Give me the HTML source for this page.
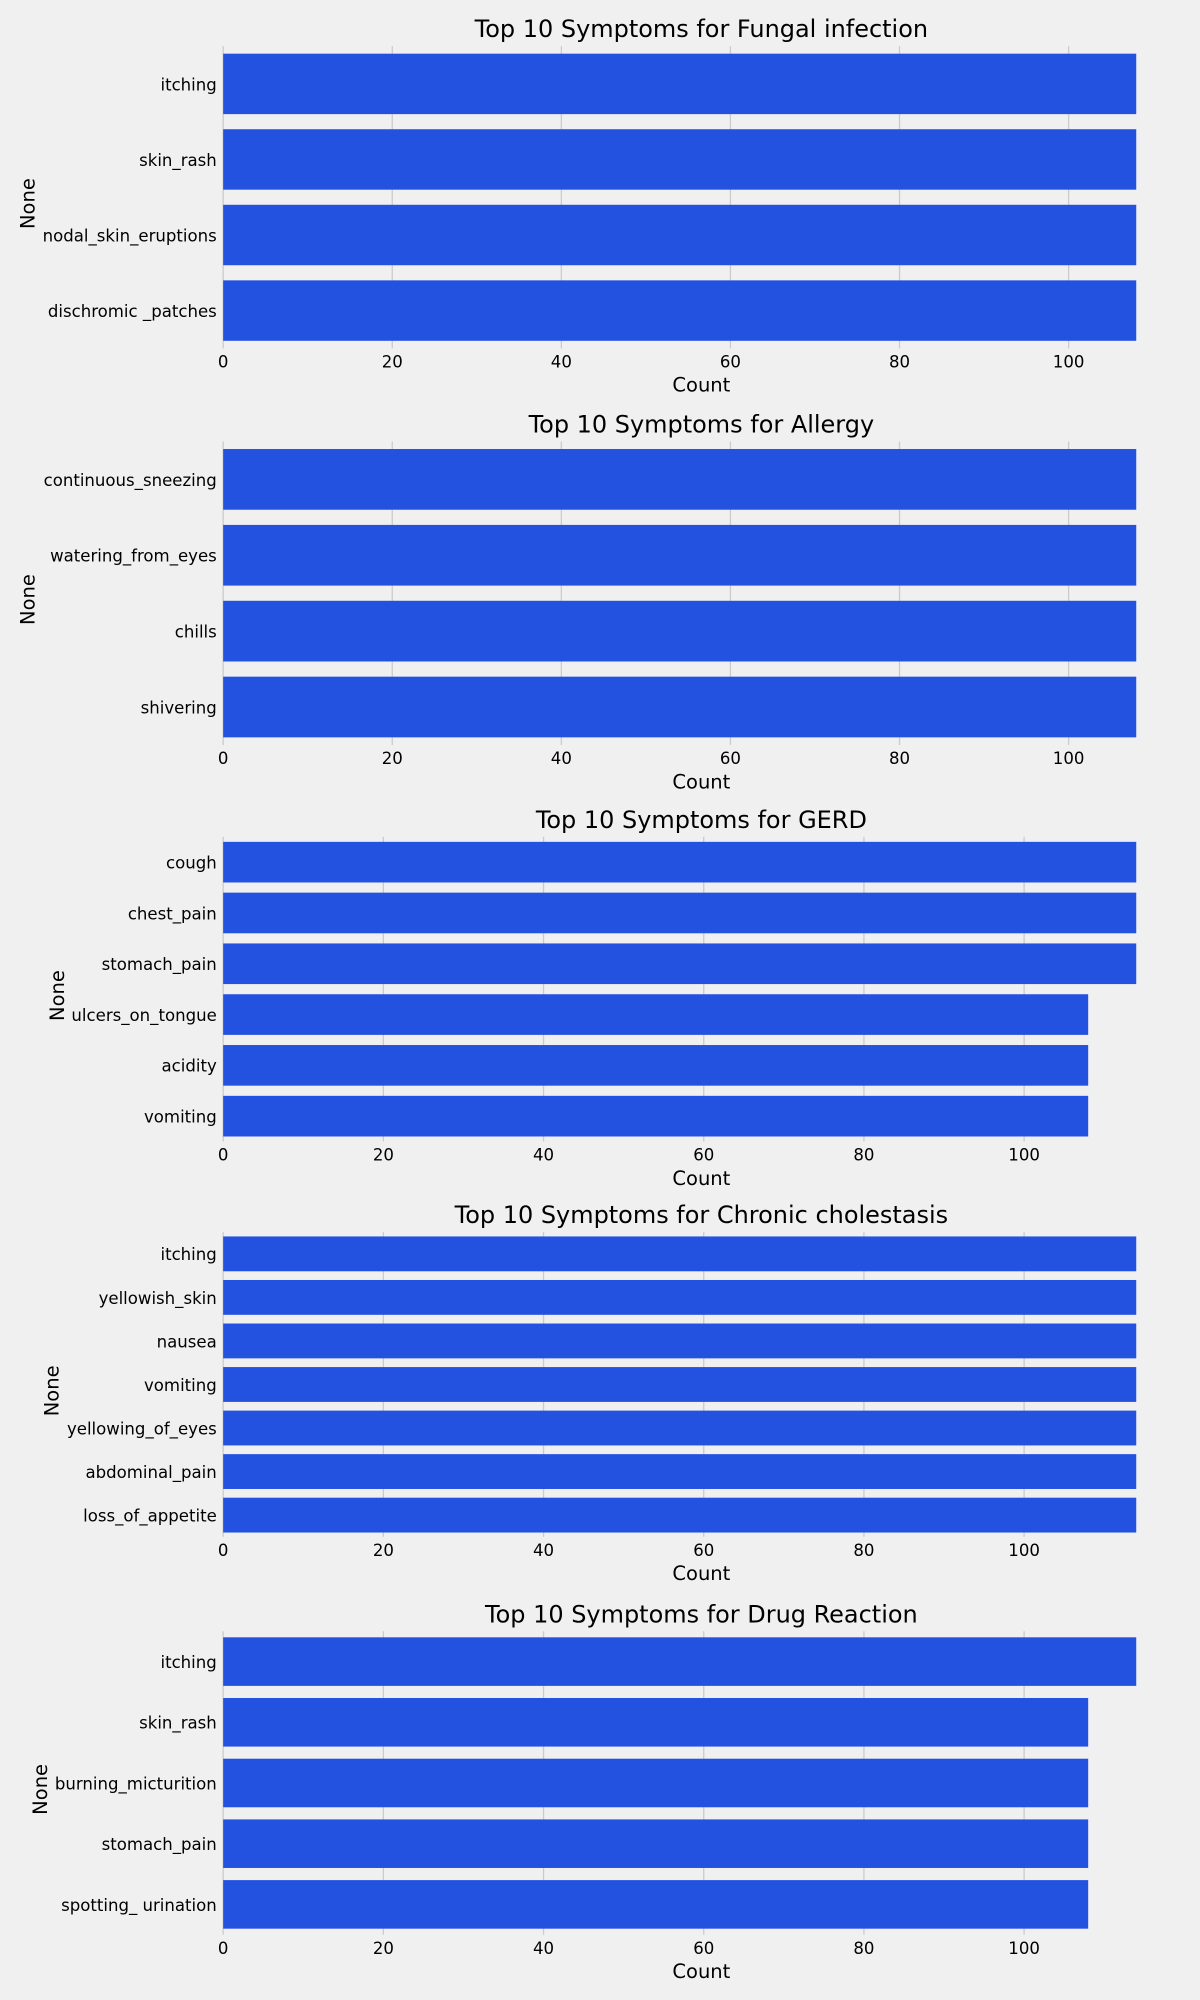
<!DOCTYPE html>
<html><head><meta charset="utf-8"><style>
html,body{margin:0;padding:0;background:#f0f0f0;}
svg{display:block;font-family:"DejaVu Sans","Liberation Sans",sans-serif;}
</style></head><body>
<svg id="chart" width="1200" height="2000" viewBox="0 0 941 1568" xmlns="http://www.w3.org/2000/svg">
<rect width="941" height="1568" fill="#f0f0f0"/>
</svg>
<script>
const cats1 = ["itching","skin_rash","nodal_skin_eruptions","dischromic _patches"];
const vals1 = [108,108,108,108];
const cats2 = ["continuous_sneezing","watering_from_eyes","chills","shivering"];
const vals2 = [108,108,108,108];
const cats3 = ["cough","chest_pain","stomach_pain","ulcers_on_tongue","acidity","vomiting"];
const vals3 = [114,114,114,108,108,108];
const cats4 = ["itching","yellowish_skin","nausea","vomiting","yellowing_of_eyes","abdominal_pain","loss_of_appetite"];
const vals4 = [114,114,114,114,114,114,114];
const cats5 = ["itching","skin_rash","burning_micturition","stomach_pain","spotting_ urination"];
const vals5 = [114,108,108,108,108];
const diseases = ["Fungal infection","Allergy","GERD","Chronic cholestasis","Drug Reaction"];
const ticks = [0,20,40,60,80,100];

const panels = [
 {cats:cats1, vals:vals1, top:36, bot:273, ylx:22},
 {cats:cats2, vals:vals2, top:346, bot:584, ylx:22},
 {cats:cats3, vals:vals3, top:656, bot:895, ylx:45},
 {cats:cats4, vals:vals4, top:966, bot:1205, ylx:41},
 {cats:cats5, vals:vals5, top:1279, bot:1517, ylx:32}
];
const svg = document.getElementById('chart');
const NS = "http://www.w3.org/2000/svg";
function mk(tag, attrs, text){
  const e = document.createElementNS(NS, tag);
  for (const k in attrs) e.setAttribute(k, attrs[k]);
  if (text !== undefined) e.textContent = text;
  svg.appendChild(e); return e;
}
const L = 175, R = 891, CX = 550;
panels.forEach((p, pi) => {
  const xmax = Math.max(...p.vals);
  const xs = v => L + (v / xmax) * (R - L);
  const band = (p.bot - p.top) / p.cats.length;
  const ys = i => p.top + i * band;
  ticks.forEach(t => {
    if (t > xmax) return;
    const g = mk('line', {x1:xs(t), x2:xs(t), y1:p.top, y2:p.bot, stroke:'#cbcbcb', 'stroke-width':1});
    
    
    const tl = mk('text', {x:xs(t), y:p.bot+15, 'text-anchor':'middle', 'font-size':13, fill:'#000'}, String(t));
    
    
  });
  p.cats.forEach((c, i) => {
    const b = mk('rect', {x:L, y:ys(i)+band*0.1, width:xs(p.vals[i])-L, height:band*0.8, fill:'#2351e0'});
    
    
    const yl = mk('text', {x:L-5, y:ys(i)+band/2+5, 'text-anchor':'end', 'font-size':13, fill:'#000'}, c);
    
    
  });
  const t = mk('text', {x:CX, y:p.top-7, 'text-anchor':'middle', 'font-size':18.8, fill:'#000'}, 'Top 10 Symptoms for ' + diseases[pi]);
  
  
  const xl = mk('text', {x:CX, y:p.bot+34, 'text-anchor':'middle', 'font-size':15.3, fill:'#000'}, 'Count');
  
  
  const cy = (p.top+p.bot)/2;
  const yt = mk('text', {x:p.ylx, y:cy, 'text-anchor':'middle', 'font-size':15.3, fill:'#000', transform:'rotate(-90 '+(p.ylx+5)+' '+cy+')'}, 'None');
  
  
});
</script>
</body></html>
